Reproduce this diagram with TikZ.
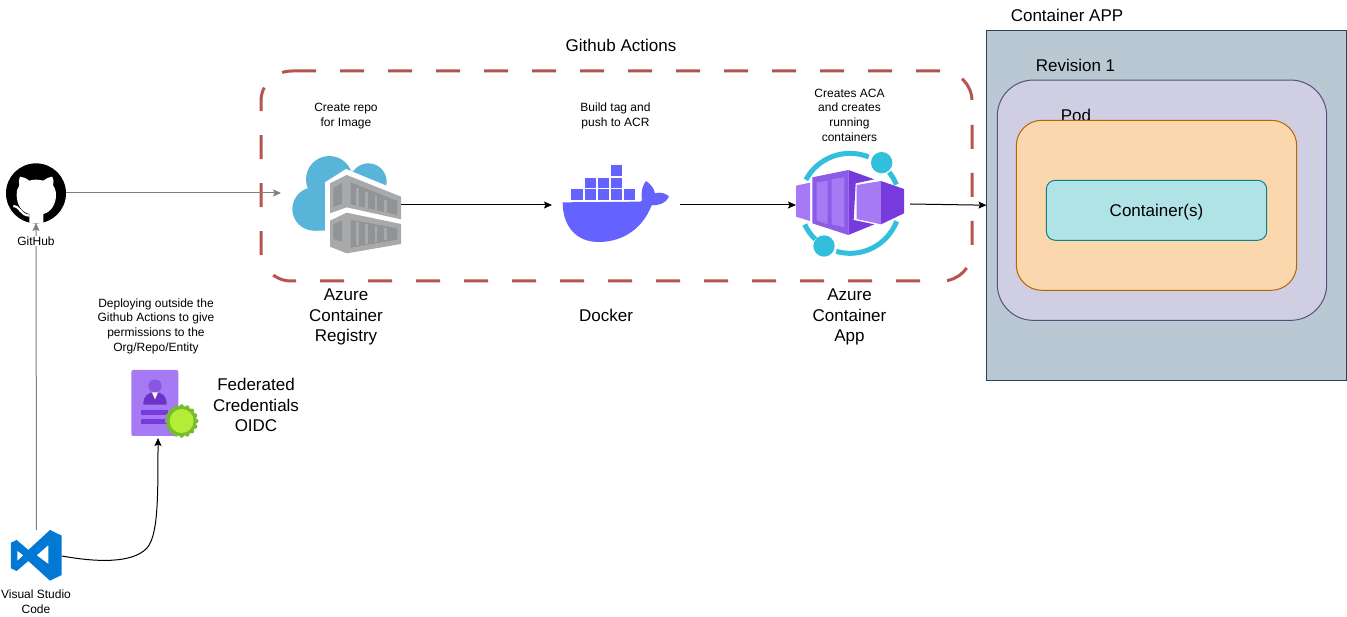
\documentclass[tikz,border=0pt]{standalone}
\usepackage{fontspec}
\setmainfont{Liberation Sans}
\usetikzlibrary{arrows.meta,calc}
\definecolor{dashred}{HTML}{B85450}
\definecolor{arrowgray}{HTML}{808080}
\definecolor{appfill}{HTML}{BAC8D3}
\definecolor{appline}{HTML}{23445D}
\definecolor{revfill}{HTML}{D0CEE2}
\definecolor{revline}{HTML}{56517E}
\definecolor{podfill}{HTML}{FAD7AC}
\definecolor{podline}{HTML}{B46504}
\definecolor{ctrfill}{HTML}{B0E3E6}
\definecolor{ctrline}{HTML}{0E8088}
\definecolor{cloudblue}{HTML}{59B4D9}
\definecolor{crate}{HTML}{A8A9AA}
\definecolor{crateshade}{HTML}{929394}
\definecolor{dockerblue}{HTML}{6463FF}
\definecolor{ringblue}{HTML}{32BEDD}
\definecolor{purplelight}{HTML}{A67AF4}
\definecolor{purplemid}{HTML}{8C5CE6}
\definecolor{purpledark}{HTML}{773ADC}
\definecolor{vsblue}{HTML}{0078D4}
\definecolor{badgeout}{HTML}{76BC2D}
\definecolor{badgein}{HTML}{B4EC36}
\tikzset{
  bigtext/.style={font=\fontsize{17}{20.5}\selectfont,align=center,inner sep=0pt},
  smalltext/.style={font=\fontsize{12}{14.7}\selectfont,align=center,inner sep=0pt},
  iconbox/.style={inner sep=0pt,outer sep=0pt},
  flowblack/.style={draw=black,line width=1pt,-{Stealth[length=8pt,width=7pt,inset=1.5pt]}},
  flowgray/.style={draw=arrowgray,line width=1pt,-{Stealth[length=8pt,width=7pt,inset=1.5pt]}},
  boxrounded/.style={line width=1pt},
  zoomed/.style={x=0.33333pt,y=-0.33333pt},
  groupdash/.style={dashred,line width=3pt,dash pattern=on 24pt off 24pt,dash phase=#1},
}
\begin{document}
\begin{tikzpicture}[x=1pt,y=-1pt]
\useasboundingbox (0,0) rectangle (1347,617);
\fill[white] (0,0) rectangle (1347,617);

% Container App nest
\node[draw=appline,fill=appfill,boxrounded,iconbox,minimum width=360.2pt,minimum height=349.7pt] (capp) at (1166.6,205.2) {};
\node[draw=revline,fill=revfill,boxrounded,iconbox,rounded corners=36pt,minimum width=329.4pt,minimum height=240.3pt] (rev) at (1162,200.2) {};
\node[bigtext] (podlabel) at (1076,115) {Pod};
\node[draw=podline,fill=podfill,boxrounded,iconbox,rounded corners=25.5pt,minimum width=280.4pt,minimum height=170pt] (pod) at (1156.5,205.3) {};
\node[draw=ctrline,fill=ctrfill,boxrounded,iconbox,rounded corners=9pt,minimum width=220.4pt,minimum height=60pt] (ctr) at (1156.5,210.3) {};
\node[bigtext] (ctrlabel) at (1156.5,212) {Container(s)};
\node[bigtext] (capplabel) at (1067,15) {Container APP};
\node[bigtext] (revlabel) at (1075.5,65) {Revision 1};

% Dashed Github Actions group
\draw[groupdash=0pt] (292,71) -- (942,71) .. controls (958.5,71) and (972,84.5) .. (972,101);
\draw[groupdash=24pt] (972,101) -- (972,251) .. controls (972,267.5) and (958.5,281) .. (942,281);
\draw[groupdash=26pt] (942,281) -- (291,281) .. controls (274.5,281) and (261,267.5) .. (261,251)
  -- (261,101) .. controls (261,84.5) and (274.5,71) .. (292,71);
\node[bigtext] (galabel) at (621,45) {Github Actions};

% Icon anchors
\node[iconbox,circle,minimum size=60pt] (github) at (36,193) {};
\node[iconbox,minimum width=120pt,minimum height=104pt] (acr) at (341,205) {};
\node[iconbox,minimum width=128pt,minimum height=100pt] (docker) at (616,205) {};
\node[iconbox,minimum width=114pt,minimum height=110pt] (aca) at (853,204) {};
\node[iconbox,minimum width=51pt,minimum height=52pt] (vscode) at (36.5,556) {};
\node[iconbox,minimum width=54pt,minimum height=68pt] (cred) at (158,404) {};

% GitHub icon
\begin{scope}[shift={(0,150)},zoomed]
  \fill[black] (108,130) circle[radius=90];
  \fill[white] (88,219) -- (88,192) .. controls (62,186) and (50,160) .. (50,135)
    .. controls (50,122) and (53,112) .. (58,106) .. controls (55,98) and (56,88) .. (60,80)
    .. controls (70,80) and (78,85) .. (88,92) .. controls (100,88) and (116,88) .. (130,92)
    .. controls (140,85) and (148,80) .. (157,80) .. controls (161,88) and (162,98) .. (159,106)
    .. controls (164,112) and (168,122) .. (168,135) .. controls (168,160) and (155,186) .. (130,192)
    -- (130,219) -- cycle;
  \draw[white,line width=2.2pt] (40,168) .. controls (62,170) and (60,195) .. (88,197);
\end{scope}

% ACR icon
\begin{scope}[shift={(280,145)},zoomed]
  \fill[cloudblue] (102,192) circle[radius=65];
  \fill[cloudblue] (148,103) circle[radius=70];
  \fill[cloudblue] (265,110) circle[radius=55];
  \fill[cloudblue] (100,130) -- (190,72) -- (300,100) -- (300,200) -- (135,257) -- (100,257) -- cycle;
  \fill[white] (135,262) -- (135,112) -- (198,72) -- (363,140) -- (363,345) -- (135,345) -- cycle;
  \fill[crate] (150,115) -- (200,90) -- (363,155) -- (363,223) -- (200,187) -- (150,205) -- cycle;
  \fill[crate] (150,227) -- (200,203) -- (363,237) -- (363,297) -- (200,325) -- (150,305) -- cycle;
  \fill[crateshade] (160,128) -- (186,114) -- (186,176) -- (160,186) -- cycle;
  \fill[crateshade] (212,112) -- (352,168) -- (352,210) -- (212,178) -- cycle;
  \fill[crateshade] (160,238) -- (186,226) -- (186,290) -- (160,282) -- cycle;
  \fill[crateshade] (212,224) -- (352,250) -- (352,284) -- (212,308) -- cycle;
  \foreach \xa in {232,260,288,316} {
    \draw[crate,line width=2.6pt] (\xa,{122+(\xa-212)*0.4}) -- (\xa,{178+(\xa-212)*0.22});
    \draw[crate,line width=2.6pt] (\xa,{228+(\xa-212)*0.19}) -- (\xa,{304-(\xa-212)*0.17});
  }
\end{scope}

% Docker icon
\begin{scope}[shift={(540,140)},zoomed]
  \foreach \bx/\by in {94/148,134/148,173/148,213/148,252/148,134/113,173/113,213/113,213/76}
    \fill[dockerblue] (\bx,\by) rectangle ++(34,31);
  \fill[dockerblue] (68,187) -- (300,185) .. controls (304,185) and (306,183) .. (306,178)
    .. controls (302,155) and (308,135) .. (318,123) .. controls (332,132) and (342,145) .. (345,160)
    .. controls (362,155) and (378,160) .. (387,170) .. controls (378,190) and (355,197) .. (335,196)
    .. controls (310,260) and (255,306) .. (175,306) .. controls (110,306) and (68,260) .. (68,187) -- cycle;
\end{scope}

% Container App icon
\begin{scope}[shift={(785,145)},zoomed]
  \foreach \sa/\ea in {152/68,38.5/22,-21/-106,-134/-155}
    \draw[ringblue,line width=5pt] ([shift={(-\sa:150)}]195,175) arc[start angle=-\sa,end angle=-\ea,radius=150];
  \fill[ringblue] (290,53) circle[radius=32];
  \fill[ringblue] (117,303) circle[radius=32];
  \fill[purplelight] (33,122) -- (75,113) -- (75,228) -- (33,215) -- cycle;
  \fill[purpledark] (190,75) -- (268,103) -- (212,115) -- (206,225) -- (268,238) -- (190,270) -- cycle;
  \fill[purplemid] (82,97) -- (190,75) -- (190,270) -- (82,235) -- cycle;
  \fill[purplelight] (95,112) -- (128,107) -- (128,238) -- (95,226) -- cycle;
  \fill[purplelight] (140,103) -- (178,97) -- (178,247) -- (140,238) -- cycle;
  \fill[purplelight] (215,120) -- (288,108) -- (288,238) -- (215,222) -- cycle;
  \fill[purpledark] (288,108) -- (357,132) -- (357,205) -- (288,238) -- cycle;
\end{scope}

% VS Code icon
\begin{scope}[shift={(0,360)},zoomed]
  \fill[vsblue,even odd rule] (150,510) -- (85,570) -- (50,540) -- (33,548) -- (33,625) -- (50,633)
    -- (85,603) -- (150,662) -- (185,645) -- (185,527) -- cycle
    (145,555) -- (110,586) -- (145,612) -- cycle
    (52,572) -- (70,586) -- (52,603) -- cycle;
\end{scope}

% Credential icon
\begin{scope}[shift={(0,360)},zoomed]
  \fill[purplelight,rounded corners=2pt] (394,30) rectangle (535,228);
  \fill[purpledark!85!white] (465,78) circle[radius=20];
  \fill[purpledark!90!black] (430,134) .. controls (430,105) and (445,97) .. (465,97)
    .. controls (485,97) and (500,105) .. (500,134) -- cycle;
  \fill[white] (456,97) -- (474,97) -- (465,118) -- cycle;
  \fill[purpledark] (424,150) rectangle (505,165);
  \fill[purpledark] (424,178) rectangle (505,192);
  \foreach \ang in {0,22.5,...,337.5}
    \fill[badgeout] ([shift={(\ang:44)}]545,183) circle[radius=6.5];
  \fill[badgeout] (545,183) circle[radius=45];
  \fill[badgein] (545,183) circle[radius=36];
\end{scope}

% Connectors
\draw[flowgray] (github.east) -- (github.east -| acr.west);
\draw[flowgray] (vscode.north) -- (github.south);
\draw[flowblack] (acr.east) -- (docker.west);
\draw[flowblack] (docker.east) -- (docker.east -| aca.west);
\draw[flowblack] (aca.east) -- (capp.west);
\draw[flowblack] (vscode.east) .. controls (95,562) and (132,564) .. (147,548)
  .. controls (158,535) and (158,500) .. (cred.south);

% Texts
\node[smalltext,fill=white,inner xsep=1pt,inner ysep=0.5pt] (ghlabel) at (36,241) {GitHub};
\node[smalltext] (t1) at (346,116) {Create repo\\for Image};
\node[smalltext] (t2) at (615.5,116) {Build tag and\\push to ACR};
\node[smalltext] (t3) at (849.5,115.2) {Creates ACA\\and creates\\running\\containers};
\node[bigtext] (l1) at (346,317) {Azure\\Container\\Registry};
\node[bigtext] (l2) at (606,315) {Docker};
\node[bigtext] (l3) at (849.5,317) {Azure\\Container\\App};
\node[smalltext] (t4) at (156,326) {Deploying outside the\\Github Actions to give\\permissions to the\\Org/Repo/Entity};
\node[bigtext] (l4) at (256,405) {Federated\\Credentials\\OIDC};
\node[smalltext] (vslabel) at (36,602) {Visual Studio\\Code};
\end{tikzpicture}
\end{document}
